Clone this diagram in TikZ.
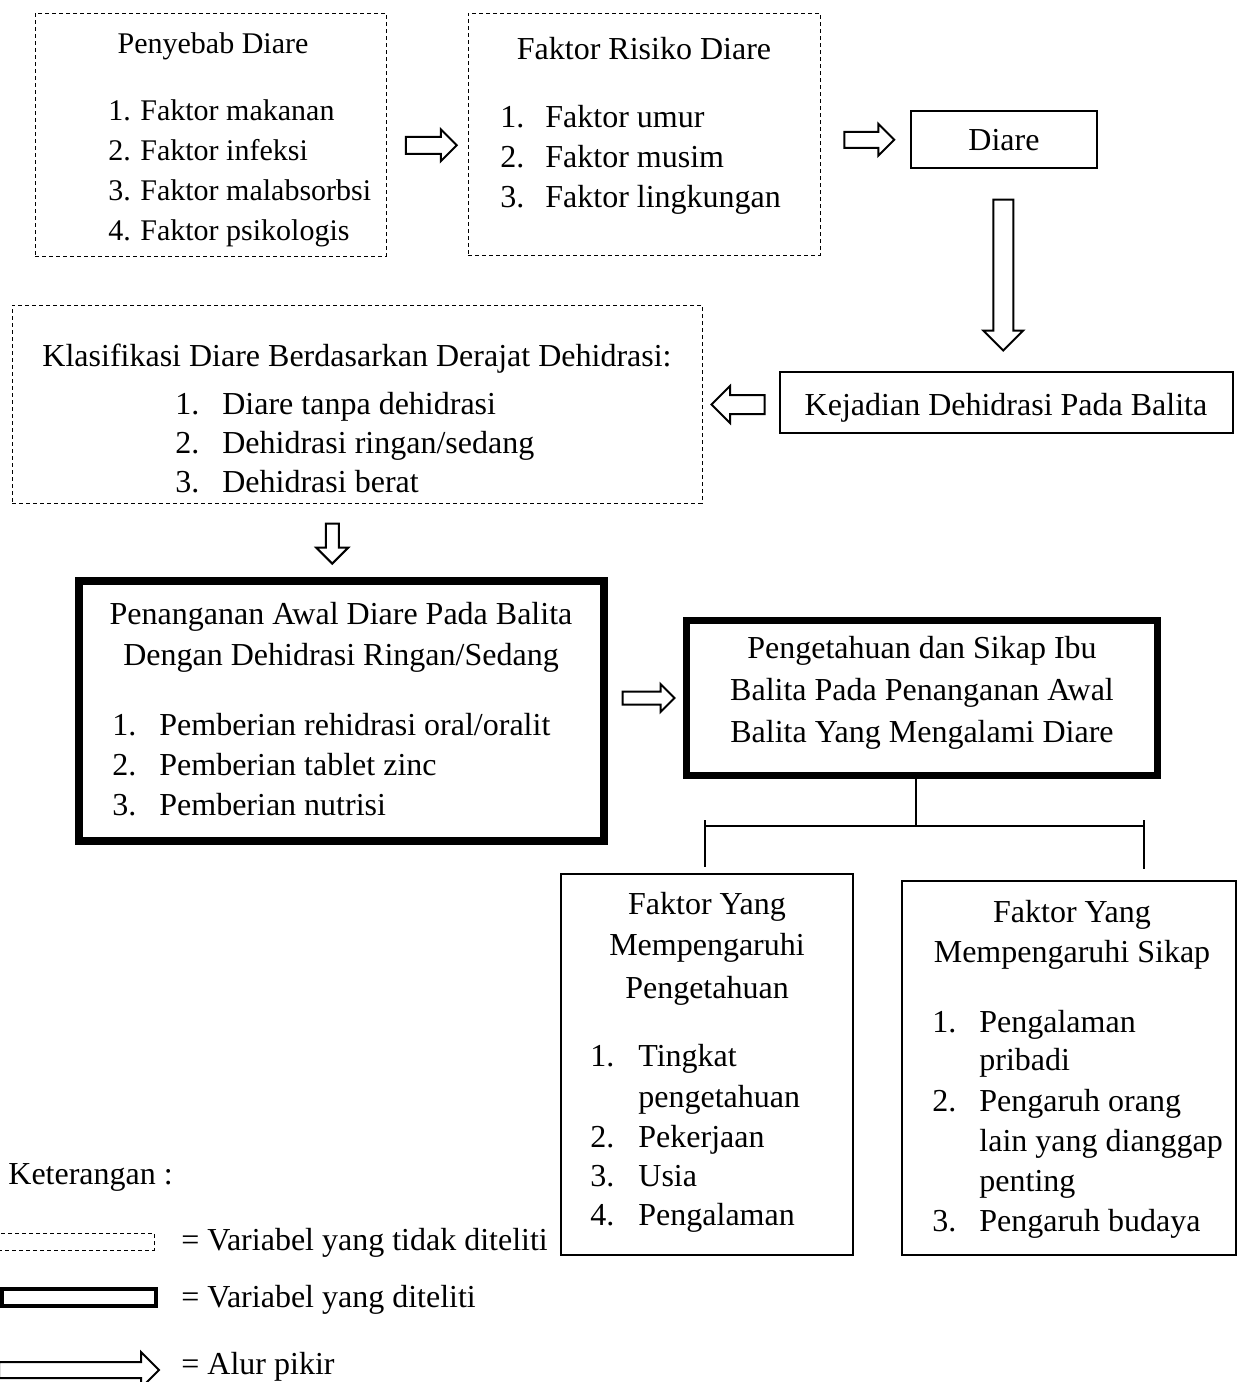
\documentclass[tikz,border=0pt]{standalone}
\usepackage{fontspec}
\setmainfont{Liberation Serif}
\usetikzlibrary{shapes.arrows,calc}

\newcommand\px{0.5pt}

\begin{document}
\begin{tikzpicture}[x=\px,y=-\px,
  every node/.style={font=\fontsize{16}{20}\selectfont, inner sep=0pt},
  kecil/.style={font=\fontsize{15}{20}\selectfont},
  dbox/.style={draw, line width=0.5pt, dash pattern=on 2pt off 1.5pt},
  tbox/.style={draw, line width=1pt},
  kbox/.style={draw, line width=3.7pt},
  mbox/.style={draw, line width=1.25pt},
  title/.style={anchor=base},
  item/.style={anchor=base west},
  alur/.style={single arrow, draw, line width=1pt, inner xsep=0pt,
    single arrow head indent=0pt}]

  \useasboundingbox (0,0) rectangle (1241,1382);

  % kotak-kotak
  \node[dbox, minimum width=351*\px, minimum height=243*\px] (penyebab) at (210.5,134.5) {};
  \node[dbox, minimum width=352*\px, minimum height=242*\px] (risiko) at (644,134) {};
  \node[tbox, minimum width=186*\px, minimum height=57*\px] (diare) at (1004,139.5) {};
  \node[tbox, minimum width=453*\px, minimum height=61*\px] (kejadian) at (1006.5,402.5) {};
  \node[dbox, minimum width=690*\px, minimum height=198*\px] (klasifikasi) at (357,404) {};
  \node[kbox, minimum width=525*\px, minimum height=260*\px] (penanganan) at (341.5,711) {};
  \node[kbox, minimum width=471*\px, minimum height=155*\px] (pengetahuan) at (922,698) {};
  \node[mbox, minimum width=292*\px, minimum height=381*\px] (fpeng) at (707,1064.5) {};
  \node[mbox, minimum width=334*\px, minimum height=374*\px] (fsikap) at (1069,1068) {};

  % penyebab diare
  \node[title, kecil] (penyebabT) at (213,53) {Penyebab Diare};
  \foreach \t [count=\i] in {Faktor makanan, Faktor infeksi, Faktor malabsorbsi, Faktor psikologis}
    \node[item, kecil] (penyebab\i) at (108,80+40*\i) {\makebox[16pt][l]{\i.}\t};

  % faktor risiko
  \node[title] (risikoT) at (644,59) {Faktor Risiko Diare};
  \foreach \t [count=\i] in {Faktor umur, Faktor musim, Faktor lingkungan}
    \node[item] (risiko\i) at (500,87+40*\i) {\makebox[22.5pt][l]{\i.}\t};

  \node[title] (diareT) at (1004,150) {Diare};
  \node[title] (kejadianT) at (1006,415) {Kejadian Dehidrasi Pada Balita};

  % klasifikasi
  \node[title] (klasifikasiT) at (357,366) {Klasifikasi Diare Berdasarkan Derajat Dehidrasi:};
  \foreach \t [count=\i] in {Diare tanpa dehidrasi, Dehidrasi ringan/sedang, Dehidrasi berat}
    \node[item] (klasifikasi\i) at (175,375+39*\i) {\makebox[23.5pt][l]{\i.}\t};

  % penanganan awal
  \node[title] (penangananT1) at (341,624) {Penanganan Awal Diare Pada Balita};
  \node[title] (penangananT2) at (341,665) {Dengan Dehidrasi Ringan/Sedang};
  \foreach \t [count=\i] in {Pemberian rehidrasi oral/oralit, Pemberian tablet zinc, Pemberian nutrisi}
    \node[item] (penanganan\i) at (112,695+40*\i) {\makebox[23.5pt][l]{\i.}\t};

  % pengetahuan dan sikap
  \node[title] (pengetahuanT1) at (922,658) {Pengetahuan dan Sikap Ibu};
  \node[title] (pengetahuanT2) at (922,700) {Balita Pada Penanganan Awal};
  \node[title] (pengetahuanT3) at (922,742) {Balita Yang Mengalami Diare};

  % faktor pengetahuan
  \node[title] (fpengT1) at (707,914) {Faktor Yang};
  \node[title] (fpengT2) at (707,955) {Mempengaruhi};
  \node[title] (fpengT3) at (707,998) {Pengetahuan};
  \node[item] (fpeng1) at (590,1066) {\makebox[24pt][l]{1.}Tingkat};
  \node[item] (fpeng1b) at (638,1107) {pengetahuan};
  \node[item] (fpeng2) at (590,1147) {\makebox[24pt][l]{2.}Pekerjaan};
  \node[item] (fpeng3) at (590,1186) {\makebox[24pt][l]{3.}Usia};
  \node[item] (fpeng4) at (590,1225) {\makebox[24pt][l]{4.}Pengalaman};

  % faktor sikap
  \node[title] (fsikapT1) at (1072,922) {Faktor Yang};
  \node[title] (fsikapT2) at (1072,962) {Mempengaruhi Sikap};
  \node[item] (fsikap1) at (932,1032) {\makebox[23.5pt][l]{1.}Pengalaman};
  \node[item] (fsikap1b) at (979,1070) {pribadi};
  \node[item] (fsikap2) at (932,1111) {\makebox[23.5pt][l]{2.}Pengaruh orang};
  \node[item] (fsikap2b) at (979,1151) {lain yang dianggap};
  \node[item] (fsikap2c) at (979,1191) {penting};
  \node[item] (fsikap3) at (932,1231) {\makebox[23.5pt][l]{3.}Pengaruh budaya};

  % alur pikir
  \node[alur, minimum height=25.5pt, inner ysep=3.75pt, single arrow head extend=3.75pt]
    (a1) at ($(penyebab.east)!0.5!(risiko.west)+(0,11)$) {};
  \node[alur, minimum height=25pt, inner ysep=3.5pt, single arrow head extend=4pt]
    (a2) at ($(risiko.east)!0.5!(diare.west)+(0,3)$) {};
  \node[alur, rotate=-90, minimum height=75.5pt, inner ysep=4.5pt, single arrow head extend=5pt]
    (a3) at ($(diare.south)!0.5!(kejadian.north)+(-2,0)$) {};
  \node[alur, rotate=180, minimum height=26.5pt, inner ysep=4.25pt, single arrow head extend=4.5pt]
    (a4) at ($(klasifikasi.east |- kejadian.west)!0.5!(kejadian.west)+(2,2)$) {};
  \node[alur, rotate=-90, minimum height=20pt, inner ysep=2.75pt, single arrow head extend=4.75pt]
    (a5) at ($(klasifikasi.south)!0.5!(penanganan.north)+(-17,0)$) {};
  \node[alur, minimum height=26pt, inner ysep=2.75pt, single arrow head extend=3.75pt]
    (a6) at ($(penanganan.east |- pengetahuan.west)!0.5!(pengetahuan.west)$) {};

  % cabang
  \coordinate (cab) at (916,826);
  \coordinate (cabL) at (705,826);
  \coordinate (cabR) at (1144,826);
  \draw[line width=0.9pt] (cab |- pengetahuan.south) -- (cab);
  \draw[line width=0.9pt] (cabL) -- (cabR);
  \draw[line width=0.9pt] ($(cabL)+(0,-6)$) -- ($(cabL |- fpeng.north)+(0,-6)$);
  \draw[line width=0.9pt] ($(cabR)+(0,-6)$) -- ($(cabR |- fsikap.north)+(0,-11)$);

  % keterangan
  \node[item] (ket) at (8,1184) {Keterangan :};
  \node[dbox, minimum width=170*\px, minimum height=17*\px] (lgd1) at (69,1241.5) {};
  \node[draw, line width=2pt, minimum width=154*\px, minimum height=17*\px] (lgd2) at (79,1297.5) {};
  \node[alur, minimum height=80pt, inner ysep=3.5pt, single arrow head extend=5pt] (lgd3) at (75,1370) {};
  \node[item] (lgd1T) at (181,1250) {= Variabel yang tidak diteliti};
  \node[item] (lgd2T) at (181,1307) {= Variabel yang diteliti};
  \node[item] (lgd3T) at (181,1374) {= Alur pikir};

\end{tikzpicture}
\end{document}
